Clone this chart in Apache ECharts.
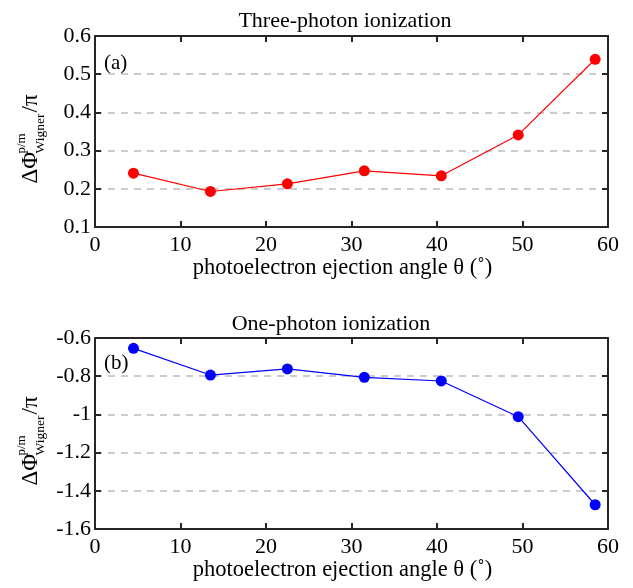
<!DOCTYPE html>
<html>
<head>
<meta charset="utf-8">
<script src="https://cdn.jsdelivr.net/npm/echarts@6/dist/echarts.min.js"></script>
<style>
  html, body { margin: 0; padding: 0; background: #fff; }
  #chart { width: 633px; height: 588px; }
</style>
</head>
<body>
<div id="chart"></div>
<script>
// data
const angles = [4.5, 13.5, 22.5, 31.5, 40.5, 49.5, 58.5];
const threePhoton = [0.241, 0.193, 0.213, 0.247, 0.234, 0.341, 0.539];
const onePhoton = [-0.654, -0.794, -0.762, -0.806, -0.825, -1.012, -1.473];
const xTicks = [0, 10, 20, 30, 40, 50, 60];

const FONT = '"Liberation Serif", "DejaVu Serif", serif';
const AXIS_COLOR = '#262626';

const chart = echarts.init(document.getElementById('chart'));

const pairs = (xs, ys) => xs.map((x, i) => [x, ys[i]]);

// grid boxes (px)
const G_LEFT = 95, G_RIGHT = 25, G_H = 191;
const G1_TOP = 36, G2_TOP = 338;

function xAxes(gridIndex) {
  const common = {
    gridIndex: gridIndex,
    type: 'value',
    min: xTicks[0],
    max: xTicks[xTicks.length - 1],
    interval: 10,
    axisLine: { show: true, onZero: false, lineStyle: { color: AXIS_COLOR, width: 2 } },
    axisTick: { show: true, inside: true, length: 6, lineStyle: { color: AXIS_COLOR, width: 2 } },
    splitLine: { show: false }
  };
  return [
    Object.assign({}, common, {
      position: 'bottom',
      axisLabel: { color: '#000', fontFamily: FONT, fontSize: 22, margin: 7 },
      name: 'photoelectron ejection angle θ (˚)',
      nameLocation: 'middle',
      nameGap: 29,
      nameTextStyle: { color: '#000', fontFamily: FONT, fontSize: 22.5, padding: [0, 18, 0, 0] }
    }),
    Object.assign({}, common, {
      position: 'top',
      axisLabel: { show: false }
    })
  ];
}

function yAxes(gridIndex, min, max, interval) {
  const common = {
    gridIndex: gridIndex,
    type: 'value',
    min: min,
    max: max,
    interval: interval,
    axisLine: { show: true, onZero: false, lineStyle: { color: AXIS_COLOR, width: 2 } },
    axisTick: { show: true, inside: true, length: 6, lineStyle: { color: AXIS_COLOR, width: 2 } }
  };
  return [
    Object.assign({}, common, {
      position: 'left',
      axisLabel: { color: '#000', fontFamily: FONT, fontSize: 22, margin: 4 },
      splitLine: { show: true, lineStyle: { color: '#cccccc', width: 2, type: [7, 6] } }
    }),
    Object.assign({}, common, {
      position: 'right',
      axisLabel: { show: false },
      splitLine: { show: false }
    })
  ];
}

// rotated y-axis label with super/subscript
function yLabel(cy) {
  return {
    type: 'group',
    x: 42,
    y: cy,
    rotation: Math.PI / 2,
    children: [
      { type: 'text', x: -47, y: 0, style: { text: 'ΔΦ', font: '23px ' + FONT, fill: '#000', verticalAlign: 'bottom' } },
      { type: 'text', x: -17, y: -14, style: { text: 'p/m', font: '13px ' + FONT, fill: '#000', verticalAlign: 'bottom' } },
      { type: 'text', x: -17, y: 5, style: { text: 'Wigner', font: '13.5px ' + FONT, fill: '#000', verticalAlign: 'bottom' } },
      { type: 'text', x: 24, y: 0, style: { text: '/π', font: '23px ' + FONT, fill: '#000', verticalAlign: 'bottom' } }
    ]
  };
}

const option = {
  backgroundColor: '#fff',
  animation: false,
  title: [
    {
      text: 'Three-photon ionization',
      left: 340,
      top: 5,
      textAlign: 'center',
      textStyle: { fontFamily: FONT, fontSize: 22, fontWeight: 'normal', color: '#000' }
    },
    {
      text: 'One-photon ionization',
      left: 326,
      top: 308,
      textAlign: 'center',
      textStyle: { fontFamily: FONT, fontSize: 22, fontWeight: 'normal', color: '#000' }
    }
  ],
  grid: [
    { left: G_LEFT, right: G_RIGHT, top: G1_TOP, height: G_H },
    { left: G_LEFT, right: G_RIGHT, top: G2_TOP, height: G_H }
  ],
  xAxis: [].concat(xAxes(0), xAxes(1)),
  yAxis: [].concat(yAxes(0, 0.1, 0.6, 0.1), yAxes(1, -1.6, -0.6, 0.2)),
  series: [
    {
      type: 'line',
      xAxisIndex: 0,
      yAxisIndex: 0,
      data: pairs(angles, threePhoton),
      symbol: 'circle',
      symbolSize: 11,
      itemStyle: { color: '#ff0000' },
      lineStyle: { color: '#ff0000', width: 1.2 }
    },
    {
      type: 'line',
      xAxisIndex: 2,
      yAxisIndex: 2,
      data: pairs(angles, onePhoton),
      symbol: 'circle',
      symbolSize: 11,
      itemStyle: { color: '#0000ff' },
      lineStyle: { color: '#0000ff', width: 1.2 }
    }
  ],
  graphic: [
    { type: 'text', left: 104, top: 53, style: { text: '(a)', font: '21px ' + FONT, fill: '#000' } },
    { type: 'text', left: 104, top: 353, style: { text: '(b)', font: '21px ' + FONT, fill: '#000' } },
    yLabel(G1_TOP + G_H / 2 + 5),
    yLabel(G2_TOP + G_H / 2 + 5)
  ]
};

chart.setOption(option);
</script>
</body>
</html>
